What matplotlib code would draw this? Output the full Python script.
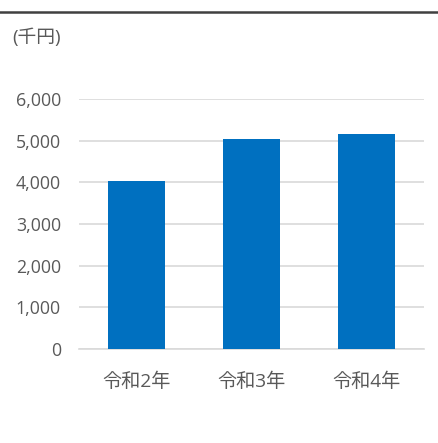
import matplotlib
matplotlib.use("Agg")
import matplotlib.pyplot as plt
from matplotlib.ticker import FuncFormatter

plt.rcParams['font.family'] = ['Open Sans', 'Noto Sans CJK JP', 'DejaVu Sans']

categories = ["令和2年", "令和3年", "令和4年"]
values = [4030, 5030, 5170]
yticks = [0, 1000, 2000, 3000, 4000, 5000, 6000]

W, H = 439, 443
fig = plt.figure(figsize=(W / 100, H / 100), dpi=100)

# axes placement in pixels: x 79..424, y 99..349 (top-down)
ax = fig.add_axes([79 / W, 1 - 349 / H, (424 - 79) / W, (349 - 99) / H])

ax.bar(range(len(categories)), values, width=0.5, color="#0070C0", zorder=3)
ax.set_xlim(-0.5, len(categories) - 0.5)
ax.set_ylim(0, 6000)
ax.set_yticks(yticks)
ax.yaxis.set_major_formatter(FuncFormatter(lambda v, p: f"{int(v):,}"))
ax.set_xticks(range(len(categories)))
ax.set_xticklabels(categories)

ax.grid(axis="y", color="#D9D9D9", linewidth=1.2, zorder=0)
for s in ["top", "right", "left"]:
    ax.spines[s].set_visible(False)
ax.spines["bottom"].set_color("#D9D9D9")
ax.spines["bottom"].set_linewidth(1.2)
ax.tick_params(axis="both", length=0, labelsize=12.8, colors="#595959")
ax.tick_params(axis="x", labelsize=13.8, pad=17)
ax.tick_params(axis="y", pad=13)

# unit label and top rule
fig.text(12 / W, 1 - 38 / H, "(千円)", fontsize=13.5, color="#595959", va="center", ha="left")
fig.add_artist(plt.Line2D([0, 1], [1 - 12 / H, 1 - 12 / H], color="#404040", linewidth=1.8))

fig.savefig("out.png", dpi=100)
